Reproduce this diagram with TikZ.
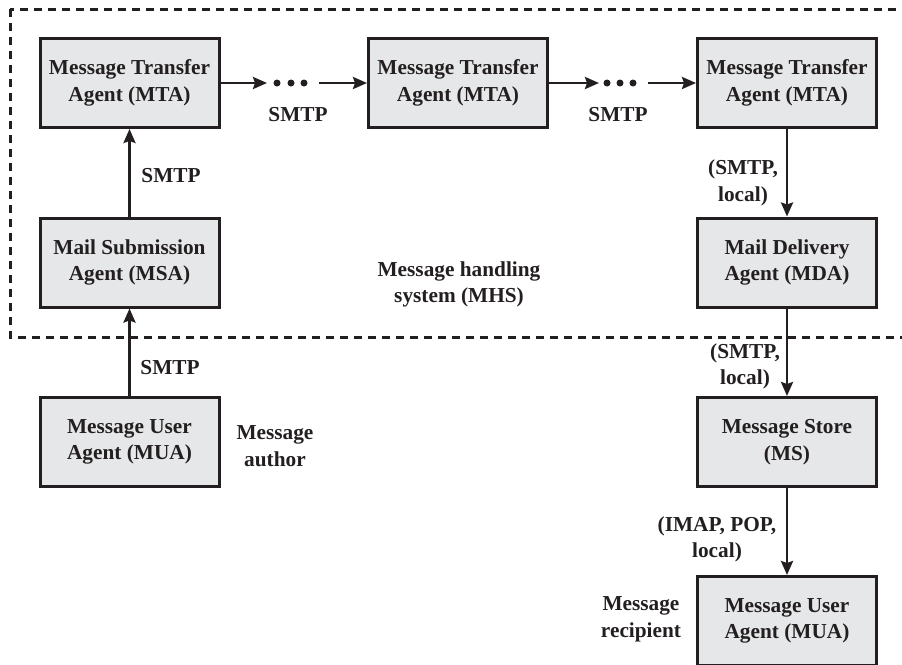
\documentclass[tikz,border=0pt]{standalone}
\usepackage{fontspec}
\setmainfont{Liberation Serif}
\usetikzlibrary{arrows.meta}
\definecolor{boxfill}{HTML}{E6E7E8}
\definecolor{ink}{HTML}{231F20}
\begin{document}
\begin{tikzpicture}[x=1pt,y=-1pt,
  agent/.style={draw=ink, fill=boxfill, line width=3pt, minimum width=179pt, minimum height=89pt,
    inner sep=0pt, align=center, text=ink, font=\fontsize{21.3}{26.5}\selectfont\bfseries},
  lbl/.style={align=center, text=ink, inner sep=0pt, font=\fontsize{21.3}{26.5}\selectfont\bfseries},
  flow/.style={draw=ink, line width=2.6pt, -{Stealth[length=14pt,width=12pt,inset=2pt]}},
  dot/.style={fill=ink}]
\useasboundingbox (0,0) rectangle (902,664);
% message handling system boundary
\draw[ink, line width=3pt, dash pattern=on 8pt off 6pt] (10,9) rectangle (930,337);
% agents
\node[agent] (mta1) at (129.5,83) {Message Transfer\\Agent (MTA)};
\node[agent] (mta2) at (458,83) {Message Transfer\\Agent (MTA)};
\node[agent] (mta3) at (787,83) {Message Transfer\\Agent (MTA)};
\node[agent] (msa) at (129.5,262.5) {Mail Submission\\Agent (MSA)};
\node[agent] (mua1) at (129.5,442) {Message User\\Agent (MUA)};
\node[agent] (mda) at (787,262.5) {Mail Delivery\\Agent (MDA)};
\node[agent] (ms) at (787,442) {Message Store\\(MS)};
\node[agent] (mua2) at (787,621) {Message User\\Agent (MUA)};
% horizontal chains with ellipses
\coordinate (t1) at (267,83);
\coordinate (s1) at (319,83);
\coordinate (t2) at (599,83);
\coordinate (s2) at (648,83);
\draw[flow] (mta1.east) -- (t1);
\fill[dot] (277,83) circle (3.5pt) (291,83) circle (3.5pt) (304,83) circle (3.5pt);
\draw[flow] (s1) -- (mta2.west);
\draw[flow] (mta2.east) -- (t2);
\fill[dot] (607,83) circle (3.5pt) (620,83) circle (3.5pt) (633,83) circle (3.5pt);
\draw[flow] (s2) -- (mta3.west);
% vertical flows
\draw[flow] (msa) -- (mta1);
\draw[flow] (mua1) -- (msa);
\draw[flow] (mta3) -- (mda);
\draw[flow] (mda) -- (ms);
\draw[flow] (ms) -- (mua2);
% labels
\node[lbl] (l1) at (298,115) {SMTP};
\node[lbl] (l2) at (618,115) {SMTP};
\node[lbl] (l3) at (171,176) {SMTP};
\node[lbl] (l4) at (170,368) {SMTP};
\node[lbl] (l5) at (743,183) {(SMTP,\\local)};
\node[lbl] (l6) at (745,366.5) {(SMTP,\\local)};
\node[lbl] (l7) at (717,539.5) {(IMAP, POP,\\local)};
\node[lbl] (mhs) at (459,284.5) {Message handling\\system (MHS)};
\node[lbl] (author) at (275,446) {Message\\author};
\node[lbl] (recip) at (641,619.5) {Message\\recipient};
\end{tikzpicture}
\end{document}
